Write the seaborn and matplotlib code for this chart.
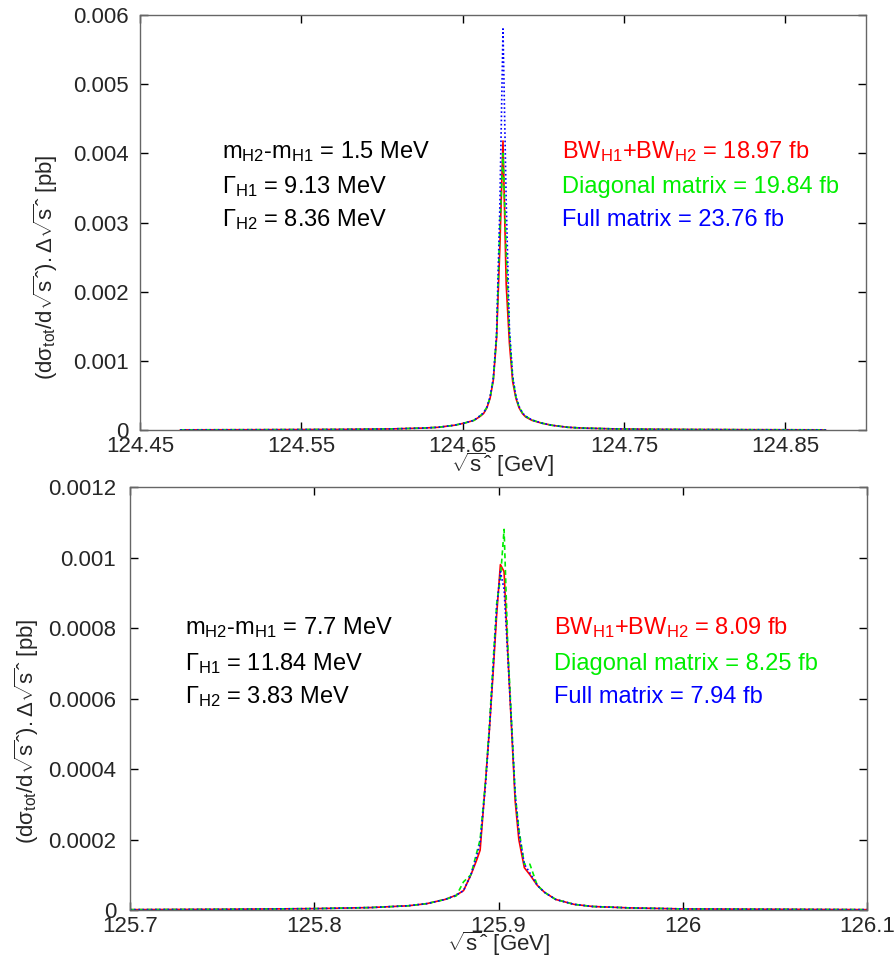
import numpy as np
import pandas as pd
import matplotlib
matplotlib.use("Agg")
import matplotlib.pyplot as plt
import seaborn as sns

# ---------------- data: top panel ----------------
top_x = [124.475, 124.525, 124.575, 124.605, 124.625, 124.635, 124.645, 124.651,
         124.657, 124.661, 124.663, 124.665, 124.667, 124.669, 124.671, 124.673,
         124.675, 124.677, 124.679, 124.681, 124.683, 124.685, 124.687, 124.689,
         124.693, 124.699, 124.705, 124.715, 124.725, 124.745, 124.775, 124.825,
         124.875]
top_full = [0.000003, 0.000005, 0.000009, 0.000016, 0.000028, 0.00004, 0.00007, 0.0001,
            0.00014, 0.00021, 0.00025, 0.00033, 0.00048, 0.00075, 0.00138, 0.00318,
            0.0058, 0.0033, 0.00145, 0.00078, 0.00049, 0.00034, 0.00025, 0.0002,
            0.000145, 0.0001, 0.00007, 0.00004, 0.000028, 0.000016, 0.000009, 0.000005,
            0.000003]
top_bw = [0.000003, 0.000005, 0.000009, 0.000016, 0.000028, 0.00004, 0.00007, 0.0001,
          0.00014, 0.0002, 0.00024, 0.00032, 0.00046, 0.00072, 0.00132, 0.0026,
          0.00418, 0.0021, 0.00125, 0.0007, 0.00046, 0.00032, 0.00024, 0.00019,
          0.00014, 0.0001, 0.00007, 0.00004, 0.000028, 0.000016, 0.000009, 0.000005,
          0.000003]
top_diag = [0.000003, 0.000005, 0.000009, 0.000016, 0.000028, 0.00004, 0.00007, 0.0001,
            0.00014, 0.00021, 0.00025, 0.00033, 0.00047, 0.00074, 0.00135, 0.0029,
            0.0040, 0.0026, 0.0014, 0.00076, 0.00048, 0.00033, 0.00025, 0.0002,
            0.000145, 0.0001, 0.00007, 0.00004, 0.000028, 0.000016, 0.000009, 0.000005,
            0.000003]
top_xticks = [124.45, 124.55, 124.65, 124.75, 124.85]
top_xticklabels = ["124.45", "124.55", "124.65", "124.75", "124.85"]
top_yticks = [0, 0.001, 0.002, 0.003, 0.004, 0.005, 0.006]
top_yticklabels = ["0", "0.001", "0.002", "0.003", "0.004", "0.005", "0.006"]
top_params = [r"$\mathrm{m_{H2}}$-$\mathrm{m_{H1}}$ = 1.5 MeV",
              r"$\Gamma_{\mathrm{H1}}$ = 9.13 MeV",
              r"$\Gamma_{\mathrm{H2}}$ = 8.36 MeV"]
top_results = [r"BW$_{\mathrm{H1}}$+BW$_{\mathrm{H2}}$ = 18.97 fb",
               "Diagonal matrix = 19.84 fb",
               "Full matrix = 23.76 fb"]

# ---------------- data: bottom panel ----------------
bot_x = [125.700, 125.751, 125.801, 125.831, 125.851, 125.861, 125.871, 125.877,
         125.881, 125.885, 125.888, 125.890, 125.893, 125.895, 125.897, 125.899,
         125.901, 125.903, 125.905, 125.907, 125.909, 125.911, 125.914, 125.917,
         125.921, 125.925, 125.931, 125.941, 125.951, 125.971, 126.001, 126.051,
         126.100]
bot_full = [0.000001, 0.000002, 0.000004, 0.000007, 0.000012, 0.000018, 0.00003, 0.000042,
            0.000055, 0.0001, 0.00015, 0.00019, 0.00036, 0.00051, 0.00068, 0.00086,
            0.00096, 0.00091, 0.00072, 0.00053, 0.00033, 0.00022, 0.00013, 0.000105,
            0.00007, 0.00005, 0.00003, 0.000016, 0.00001, 0.000006, 0.000003, 0.000002,
            0.000001]
bot_bw = [0.000001, 0.000002, 0.000004, 0.000007, 0.000012, 0.000018, 0.00003, 0.000042,
          0.000055, 0.0001, 0.00014, 0.00017, 0.00037, 0.00051, 0.00067, 0.00084,
          0.00098, 0.00096, 0.00073, 0.00052, 0.00031, 0.0002, 0.00012, 0.0001,
          0.00007, 0.00005, 0.00003, 0.000016, 0.00001, 0.000006, 0.000003, 0.000002,
          0.000001]
bot_diag = [0.000001, 0.000002, 0.000004, 0.000007, 0.000012, 0.000018, 0.00003, 0.00004,
            0.00008, 0.0001, 0.00016, 0.0002, 0.00037, 0.00052, 0.0007, 0.00087,
            0.00094, 0.00108, 0.00075, 0.00054, 0.00033, 0.00023, 0.00013, 0.00013,
            0.00007, 0.00005, 0.00003, 0.000016, 0.00001, 0.000006, 0.000003, 0.000002,
            0.000001]
bot_xticks = [125.7, 125.8, 125.9, 126.0, 126.1]
bot_xticklabels = ["125.7", "125.8", "125.9", "126", "126.1"]
bot_yticks = [0, 0.0002, 0.0004, 0.0006, 0.0008, 0.001, 0.0012]
bot_yticklabels = ["0", "0.0002", "0.0004", "0.0006", "0.0008", "0.001", "0.0012"]
bot_params = [r"$\mathrm{m_{H2}}$-$\mathrm{m_{H1}}$ = 7.7 MeV",
              r"$\Gamma_{\mathrm{H1}}$ = 11.84 MeV",
              r"$\Gamma_{\mathrm{H2}}$ = 3.83 MeV"]
bot_results = [r"BW$_{\mathrm{H1}}$+BW$_{\mathrm{H2}}$ = 8.09 fb",
               "Diagonal matrix = 8.25 fb",
               "Full matrix = 7.94 fb"]

series_names = ["BW", "Diagonal", "Full"]
colors = {"BW": "#ff0000", "Diagonal": "#00ee00", "Full": "#0000ff"}
dashes = {"BW": "", "Diagonal": (3, 2), "Full": (1, 1.5)}

xlabel = r"$\sqrt{\mathrm{s}}$ˆ [GeV]"
ylabel = (r"$(\mathrm{d\sigma_{tot}}/\mathrm{d}\sqrt{\mathrm{s}}$ˆ"
          r"$).\Delta\sqrt{\mathrm{s}}$ˆ [pb]")

# ---------------- style ----------------
sns.set_style("ticks")
plt.rcParams["font.family"] = ["Liberation Sans", "DejaVu Sans"]
plt.rcParams["mathtext.fontset"] = "custom"
plt.rcParams["mathtext.rm"] = "Liberation Sans"
plt.rcParams["mathtext.it"] = "Liberation Sans:italic"
plt.rcParams["mathtext.bf"] = "Liberation Sans:bold"
plt.rcParams["mathtext.sf"] = "Liberation Sans"

FS = 16
FS_TXT = 17

fig = plt.figure(figsize=(8.95, 9.58), dpi=100)
fig.patch.set_facecolor("white")
ax1 = fig.add_axes([0.1564, 0.5511, 0.8112, 0.4332])
ax2 = fig.add_axes([0.1453, 0.0501, 0.8235, 0.4415])


def make_df(x, bw, diag, full):
    return pd.DataFrame({
        "x": list(x) * 3,
        "y": list(bw) + list(diag) + list(full),
        "series": ["BW"] * len(x) + ["Diagonal"] * len(x) + ["Full"] * len(x),
    })


def draw(ax, df, xlim, ylim, xt, xtl, yt, ytl, params, results,
         px, rx, ys, ylab_xy, xlab_y, ypad):
    sns.lineplot(data=df, x="x", y="y", hue="series", style="series",
                 hue_order=series_names, style_order=series_names,
                 palette=colors, dashes=dashes, estimator=None, sort=False,
                 linewidth=1.2, legend=False, ax=ax)
    ax.set_xlim(*xlim)
    ax.set_ylim(*ylim)
    ax.set_xticks(xt)
    ax.set_xticklabels(xtl)
    ax.set_yticks(yt)
    ax.set_yticklabels(ytl)
    ax.tick_params(direction="in", top=True, right=True, length=6, width=1,
                   labelsize=FS, color="black")
    ax.tick_params(axis="x", pad=4)
    ax.tick_params(axis="y", pad=ypad)
    for sp in ax.spines.values():
        sp.set_color("#666666")
        sp.set_linewidth(1.0)
    ax.set_xlabel(xlabel, fontsize=FS)
    ax.set_ylabel(ylabel, fontsize=FS)
    ax.yaxis.set_label_coords(*ylab_xy)
    ax.yaxis.label.set_va("center")
    ax.xaxis.set_label_coords(0.5, xlab_y)
    ax.xaxis.label.set_va("center")
    for txt, y in zip(params, ys):
        ax.text(px, y, txt, transform=ax.transAxes, fontsize=FS_TXT,
                color="black", va="baseline", ha="left")
    for txt, y, s in zip(results, ys, series_names):
        ax.text(rx, y, txt, transform=ax.transAxes, fontsize=FS_TXT,
                color=colors[s], va="baseline", ha="left")


draw(ax1, make_df(top_x, top_bw, top_diag, top_full),
     (124.45, 124.9), (0, 0.006), top_xticks, top_xticklabels,
     top_yticks, top_yticklabels, top_params, top_results,
     0.1125, 0.581, [0.6554, 0.571, 0.4916], (-0.13, 0.393), -0.084, 8)

draw(ax2, make_df(bot_x, bot_bw, bot_diag, bot_full),
     (125.7, 126.1), (0, 0.0012), bot_xticks, bot_xticklabels,
     bot_yticks, bot_yticklabels, bot_params, bot_results,
     0.0746, 0.575, [0.6525, 0.567, 0.489], (-0.14, 0.423), -0.079, 10)

fig.savefig("out.png", dpi=100, facecolor="white")
